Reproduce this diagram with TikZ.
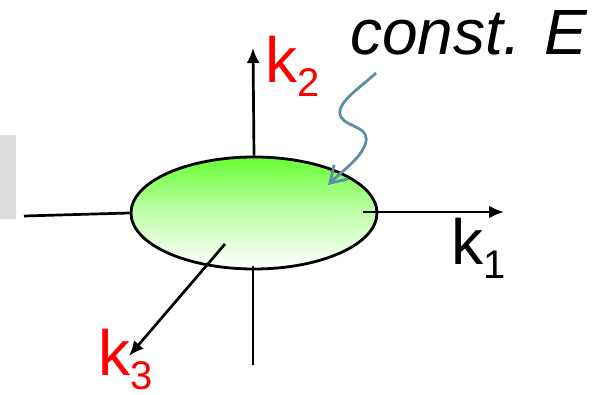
\documentclass[tikz,border=0pt]{standalone}
\usepackage{fontspec}
\setmainfont{Liberation Sans}
\usepackage{tikz}
\usetikzlibrary{arrows.meta,shapes.geometric}
\definecolor{ksGreen}{HTML}{66FF33}
\definecolor{ksRed}{HTML}{FF0000}
\definecolor{ksWave}{HTML}{5B8FA8}
\definecolor{ksPanel}{HTML}{DCDCDC}
\tikzset{
  ks diagram/.style={x=1pt, y=-1pt},
  ks axis/.style={draw=black, line width=2.7pt},
  ks arrow/.style={ks axis, -{Latex[length=15pt,width=13pt]}},
  ks surface/.style={ellipse, draw=black, line width=2.8pt,
    top color=ksGreen, bottom color=white, middle color=ksGreen!40!white,
    minimum width=246pt, minimum height=112pt, inner sep=0pt},
  ks label/.style={text=ksRed, font=\fontsize{64}{64}\selectfont,
    inner sep=0pt, anchor=base west},
  ks title/.style={font=\fontsize{64}{64}\selectfont\itshape,
    inner sep=0pt, anchor=base west},
  ks pointer/.style={draw=ksWave, line width=2.8pt,
    -{Straight Barb[length=16pt,width=20pt]}}
}
\newcommand{\kaxis}[1]{k\raisebox{-14pt}{\fontsize{40}{40}\selectfont #1}}

\begin{document}
\begin{tikzpicture}[ks diagram]
\useasboundingbox (0,0) rectangle (595,395);
\fill[ksPanel] (0,135) rectangle (16,219);
\node[ks surface] (surface) at (254,213) {};
% axis ends
\coordinate (k1 tail) at (24,216);
\coordinate (k1 in) at (363,212);
\coordinate (k1 head) at (504,212);
\coordinate (k2 head) at (253,48);
\coordinate (k2 in) at (253,266);
\coordinate (k2 tail) at (253,365);
\coordinate (k3 in) at (225,244);
\coordinate (k3 head) at (129,356);
\draw[ks axis] (k1 tail) -- (surface.west);
\draw[ks arrow] (k1 in) -- (k1 head);
\draw[ks arrow] (surface.north) -- (k2 head);
\draw[ks axis] (k2 in) -- (k2 tail);
\draw[ks arrow] (k3 in) -- (k3 head);
% labels
\node[ks label, text=black] (k1 label) at (451,265) {\kaxis{1}};
\node[ks label] (k2 label) at (265,83) {\kaxis{2}};
\node[ks label] (k3 label) at (98,376) {\kaxis{3}};
\node[ks title] (energy) at (350,55) {const. E};
% pointer to the surface
\coordinate (wave start) at (376,73);
\coordinate (wave tip) at (328,185);
\draw[ks pointer] (wave start) .. controls (360,88) and (334,104) .. (341,117)
  .. controls (347,128) and (372,126) .. (365,145)
  .. controls (359,160) and (342,171) .. (wave tip);
\end{tikzpicture}
\end{document}
